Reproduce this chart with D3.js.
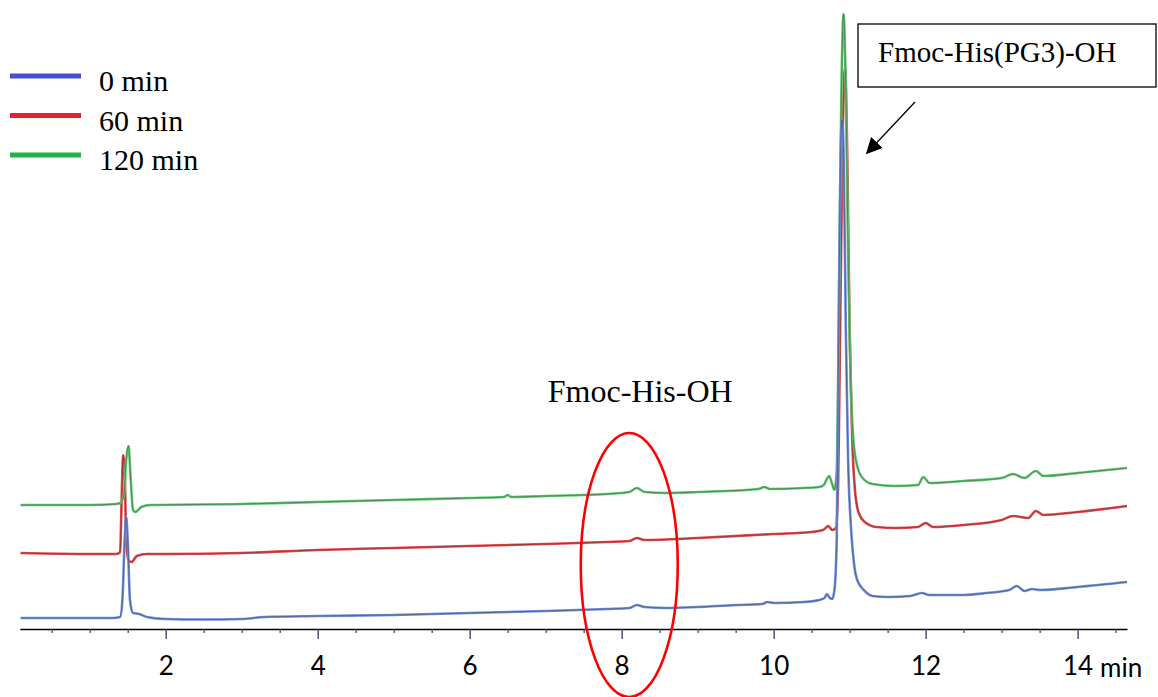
<!DOCTYPE html>
<html>
<head>
<meta charset="utf-8">
<script src="https://cdn.jsdelivr.net/npm/d3@7"></script>
<style>
  html, body { margin: 0; padding: 0; background: #fff; }
  svg { display: block; }
</style>
</head>
<body>
<svg id="chart" width="1158" height="697"></svg>
<script>
// ---- Data (retention time in min, detector signal in arbitrary units, traces offset as displayed) ----
const seriesNames = ["0 min", "60 min", "120 min"];
const legendColors = ["#4450d2", "#e8202c", "#22b24a"];
const traceColors = ["#6f8fd8", "#e24a4c", "#62c672"];

const trace0min = [
  [0.09,11],[0.5,11],[1.0,11],[1.3,11],[1.40,12],[1.43,29],[1.46,89],[1.48,112],[1.50,89],[1.53,29],
  [1.57,16],[1.65,15],[1.75,12],[2.0,10],[2.5,9.5],[3.0,10],[3.3,12],[4.0,13],[5.0,14],[6.0,16],
  [7.0,18],[7.8,20],[8.1,21],[8.2,24],[8.3,22],[8.6,21],[9.0,22],[9.5,24],[9.85,25],[9.92,27],
  [10.0,26],[10.4,27],[10.6,29],[10.67,31],[10.7,35],[10.74,31],[10.77,30],[10.80,39],[10.83,89],
  [10.86,329],[10.88,469],[10.90,509],[10.92,479],[10.95,299],[10.98,169],[11.02,99],[11.06,64],
  [11.1,49],[11.2,38],[11.3,33],[11.5,32],[11.8,33],[11.95,36],[12.05,34],[12.5,34],[12.8,36],
  [13.1,39],[13.2,43],[13.3,38],[13.4,40],[13.5,39],[14.0,42],[14.65,47]
];
const trace60min = [
  [0.09,76],[1.0,75],[1.35,75],[1.40,77],[1.42,129],[1.44,174],[1.46,159],[1.48,89],[1.51,69],
  [1.55,67],[1.62,73],[1.75,75],[2.0,75],[3.0,76],[4.0,79],[5.0,81],[6.0,83],[7.0,85],[7.8,87],
  [8.1,88],[8.2,91],[8.3,89],[9.0,91],[10.0,95],[10.5,97],[10.65,99],[10.72,103],[10.77,99],
  [10.82,101],[10.85,149],[10.88,329],[10.91,499],[10.94,561],[10.97,469],[11.0,299],[11.03,199],
  [11.07,139],[11.12,116],[11.2,107],[11.35,102],[11.6,101],[11.9,102],[12.0,106],[12.1,102],
  [12.5,104],[13.0,109],[13.15,113],[13.35,111],[13.45,118],[13.55,114],[14.0,117],[14.65,123]
];
const trace120min = [
  [0.09,124],[1.0,124],[1.35,125],[1.40,126],[1.45,134],[1.48,169],[1.51,183],[1.54,149],[1.57,119],
  [1.60,117],[1.68,122],[1.8,124],[3.0,125],[4.0,127],[5.0,129],[6.0,131],[6.45,132],[6.5,134],
  [6.55,132],[7.0,133],[7.8,135],[8.1,137],[8.2,141],[8.3,137],[8.6,136],[9.0,137],[9.8,140],
  [9.88,142],[9.95,140],[10.4,141],[10.6,142],[10.66,144],[10.7,150],[10.73,153],[10.77,145],
  [10.8,139],[10.83,159],[10.86,329],[10.89,529],[10.92,615],[10.95,539],[10.98,379],[11.01,259],
  [11.05,189],[11.1,163],[11.17,151],[11.3,145],[11.6,143],[11.9,144],[11.97,152],[12.05,146],
  [12.5,148],[13.0,151],[13.15,155],[13.3,151],[13.45,158],[13.55,153],[14.0,156],[14.65,161]
];
const majorTicks = [2, 4, 6, 8, 10, 12, 14];
const minorTicks = [0.5,1,1.5,2.5,3,3.5,4.5,5,5.5,6.5,7,7.5,8.5,9,9.5,10.5,11,11.5,12.5,13,13.5,14.5];
const axisUnit = "min";
const peakLabelMain = "Fmoc-His(PG3)-OH";
const peakLabelMinor = "Fmoc-His-OH";
const minorPeakTime = 8.1;

// ---- Chart ----
const svg = d3.select("#chart");
const x = d3.scaleLinear().domain([0.08, 14.65]).range([19.8, 1127]);
const y = d3.scaleLinear().domain([0, 620]).range([629, 9]);

const traces = [trace0min, trace60min, trace120min];
const line = d3.line().x(d => x(d[0])).y(d => y(d[1])).curve(d3.curveMonotoneX);

// draw order: red, green, blue
[1, 2, 0].forEach(i => {
  svg.append("path").datum(traces[i])
    .attr("d", line).attr("fill", "none")
    .attr("stroke", traceColors[i]).attr("stroke-width", 2.6)
    .attr("stroke-linejoin", "round");
  svg.append("path").datum(traces[i])
    .attr("d", line).attr("fill", "none")
    .attr("stroke", "#111").attr("stroke-opacity", 0.45).attr("stroke-width", 0.7);
});

// x axis
const axisG = svg.append("g").attr("transform", `translate(0,${y(0)})`);
axisG.append("g")
  .call(d3.axisBottom(x).tickValues(minorTicks).tickSize(4).tickFormat("").tickSizeOuter(0))
  .call(g => g.select(".domain").attr("stroke", "#000").attr("stroke-width", 1.6))
  .call(g => g.selectAll(".tick line").attr("stroke", "#3c4a6a").attr("stroke-width", 1.3));
axisG.append("g")
  .call(d3.axisBottom(x).tickValues(majorTicks).tickSize(10).tickPadding(18).tickFormat(d3.format("d")).tickSizeOuter(0))
  .call(g => g.select(".domain").remove())
  .call(g => g.selectAll(".tick line").attr("stroke", "#3c4a6a").attr("stroke-width", 1.4))
  .call(g => g.selectAll(".tick text").attr("fill", "#000")
      .style("font-family", "Lato, 'Open Sans', sans-serif").style("font-size", "26px"));
axisG.append("text")
  .attr("x", 1100).attr("y", 48)
  .style("font-family", "Lato, 'Open Sans', sans-serif").style("font-size", "26px")
  .attr("fill", "#000").text(axisUnit);

// legend
const legend = svg.append("g");
seriesNames.forEach((name, i) => {
  const ly = 76 + i * 39.5;
  legend.append("line").attr("x1", 10).attr("x2", 81).attr("y1", ly).attr("y2", ly)
    .attr("stroke", legendColors[i]).attr("stroke-width", 5);
  legend.append("text").attr("x", 99).attr("y", ly + 15)
    .style("font-family", "'Liberation Serif', 'Times New Roman', serif").style("font-size", "30px")
    .attr("fill", "#000").text(name);
});

// annotation box for main peak
svg.append("rect").attr("x", 858).attr("y", 24).attr("width", 298).attr("height", 63)
  .attr("fill", "#fff").attr("stroke", "#000").attr("stroke-width", 1.3);
svg.append("text").attr("x", 878).attr("y", 62)
  .style("font-family", "'Liberation Serif', 'Times New Roman', serif").style("font-size", "29px")
  .attr("fill", "#000").text(peakLabelMain);

// arrow
svg.append("defs").append("marker")
  .attr("id", "arrow").attr("viewBox", "0 0 10 10").attr("refX", 9).attr("refY", 5)
  .attr("markerWidth", 16).attr("markerHeight", 16).attr("markerUnits", "userSpaceOnUse")
  .attr("orient", "auto")
  .append("path").attr("d", "M0,0 L10,5 L0,10 Z").attr("fill", "#000");
svg.append("line").attr("x1", 915).attr("y1", 102).attr("x2", 867).attr("y2", 153)
  .attr("stroke", "#000").attr("stroke-width", 1.3).attr("marker-end", "url(#arrow)");

// minor peak label + ellipse
svg.append("text").attr("x", x(minorPeakTime) + 11).attr("y", 402).attr("text-anchor", "middle")
  .style("font-family", "'Liberation Serif', 'Times New Roman', serif").style("font-size", "32px")
  .attr("fill", "#000").text(peakLabelMinor);
svg.append("ellipse").attr("cx", x(minorPeakTime)).attr("cy", 565).attr("rx", 48.5).attr("ry", 132)
  .attr("fill", "none").attr("stroke", "#f00").attr("stroke-width", 2.6);
</script>
</body>
</html>
